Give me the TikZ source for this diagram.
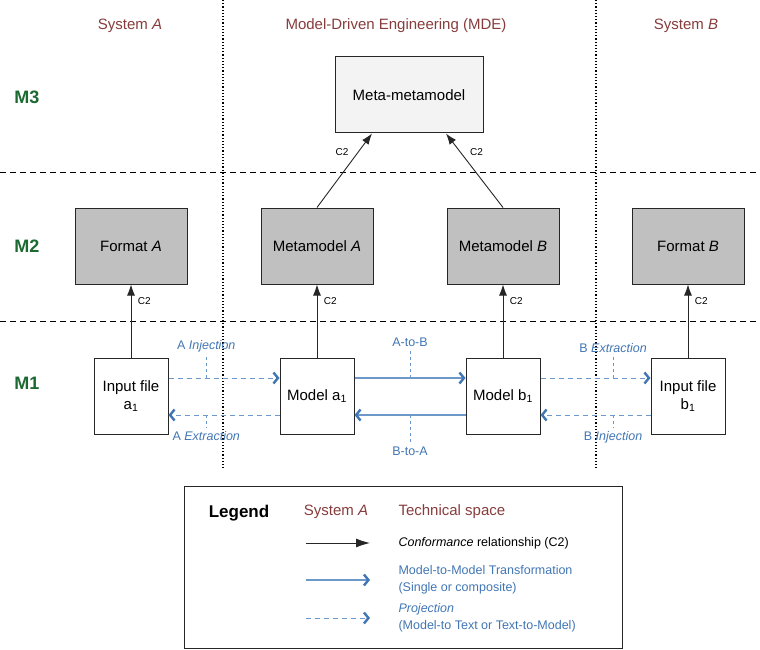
\documentclass[tikz,border=0pt]{standalone}
\usepackage{fontspec}
\setmainfont{Liberation Sans}
\usetikzlibrary{arrows.meta,positioning}
\definecolor{spacered}{RGB}{135,60,60}
\definecolor{levelgreen}{RGB}{28,105,50}
\definecolor{trafoblue}{RGB}{65,118,180}
\definecolor{lineblue}{RGB}{108,152,202}
\definecolor{mmgray}{RGB}{192,192,192}
\definecolor{mmmgray}{RGB}{243,243,243}
\begin{document}
\begin{tikzpicture}[x=1pt, y=-1pt,
    space/.style={text=spacered, font=\fontsize{15}{18}\selectfont},
    level/.style={text=levelgreen, font=\bfseries\fontsize{18}{20}\selectfont},
    box/.style={draw=black!85, line width=1pt, align=center, minimum height=76pt, inner sep=2pt, font=\fontsize{15}{18}\selectfont},
    mmmbox/.style={box, fill=mmmgray, minimum width=148pt},
    mmbox/.style={box, fill=mmgray, minimum width=112pt},
    mbox/.style={box, fill=white, minimum width=74pt},
    conf/.style={draw=black!85, line width=0.9pt, -{Latex[length=11pt,width=8pt]}},
    m2m/.style={draw=lineblue, line width=1.2pt, -{Straight Barb[length=4.5pt,width=11pt,line width=2.4pt,color=trafoblue]}},
    proj/.style={m2m, line width=1pt, dash pattern=on 5pt off 4pt},
    tick/.style={draw=lineblue, line width=0.8pt, dash pattern=on 3pt off 3pt},
    clbl/.style={font=\fontsize{10}{11}\selectfont},
    tlbl/.style={text=trafoblue, font=\fontsize{12.5}{15}\selectfont},
    sep/.style={line width=1pt, dash pattern=on 6pt off 4pt},
    part/.style={line width=1.2pt, dotted}
]
\useasboundingbox (0,0) rectangle (760,650);

% technical spaces and levels
\draw[part] (223,0) -- (223,470);
\draw[part] (596,0) -- (596,470);
\draw[sep] (0,172) -- (760,172);
\draw[sep] (0,321) -- (760,321);

\node[space] (hdrA) at (130,26) {System \textit{A}};
\node[space] (hdrMDE) at (396,26) {Model-Driven Engineering (MDE)};
\node[space] (hdrB) at (686,26) {System \textit{B}};

\node[level] (lvlM3) at (27,97) {M3};
\node[level] (lvlM2) at (27,246) {M2};
\node[level] (lvlM1) at (27,383) {M1};

% M3
\node[mmmbox] (mmm) at (409,95) {Meta-metamodel};

% M2
\node[mmbox] (fmtA) at (131,246) {Format \textit{A}};
\node[mmbox] (mmA) at (317,246) {Metamodel \textit{A}};
\node[mmbox] (mmB) at (503,246) {Metamodel \textit{B}};
\node[mmbox] (fmtB) at (688,246) {Format \textit{B}};

% M1
\node[mbox] (inA) at (131,396) {Input file\\a\textsubscript{1}};
\node[mbox] (modA) at (317,396) {Model a\textsubscript{1}};
\node[mbox] (modB) at (503,396) {Model b\textsubscript{1}};
\node[mbox] (inB) at (688,396) {Input file\\b\textsubscript{1}};

% conformance
\draw[conf] (mmA.north) -- node[clbl, pos=0.75, left=6pt] {C2} ([xshift=-37pt]mmm.south);
\draw[conf] (mmB.north) -- node[clbl, pos=0.75, right=6pt] {C2} ([xshift=37pt]mmm.south);
\draw[conf] (inA) -- node[clbl, pos=0.77, right=3pt] {C2} (fmtA);
\draw[conf] (modA) -- node[clbl, pos=0.77, right=3pt] {C2} (mmA);
\draw[conf] (modB) -- node[clbl, pos=0.77, right=3pt] {C2} (mmB);
\draw[conf] (inB) -- node[clbl, pos=0.77, right=3pt] {C2} (fmtB);

% projections and transformations
\draw[proj] ([yshift=18pt]inA.east) -- coordinate[pos=0.34] (injA) ([yshift=18pt]modA.west);
\draw[proj] ([yshift=-19pt]modA.west) -- coordinate[pos=0.66] (extA) ([yshift=-19pt]inA.east);
\draw[m2m] ([yshift=18pt]modA.east) -- coordinate[pos=0.5] (atob) ([yshift=18pt]modB.west);
\draw[m2m] ([yshift=-19pt]modB.west) -- coordinate[pos=0.5] (btoa) ([yshift=-19pt]modA.east);
\draw[proj] ([yshift=18pt]modB.east) -- coordinate[pos=0.66] (extB) ([yshift=18pt]inB.west);
\draw[proj] ([yshift=-19pt]inB.west) -- coordinate[pos=0.34] (injB) ([yshift=-19pt]modB.east);

\node[tlbl, above=22pt of injA] (tInjA) {A \textit{Injection}};
\node[tlbl, below=13pt of extA] (tExtA) {A \textit{Extraction}};
\node[tlbl, above=28pt of atob] (tAtoB) {A-to-B};
\node[tlbl, below=28pt of btoa] (tBtoA) {B-to-A};
\node[tlbl, above=22pt of extB] (tExtB) {B \textit{Extraction}};
\node[tlbl, below=13pt of injB] (tInjB) {B \textit{Injection}};
\draw[tick] (injA) -- (tInjA.south);
\draw[tick] (extA) -- (tExtA.north);
\draw[tick] (atob) -- (tAtoB.south);
\draw[tick] (btoa) -- (tBtoA.north);
\draw[tick] (extB) -- (tExtB.south);
\draw[tick] (injB) -- (tInjB.north);

% legend
\node[draw=black!85, line width=1pt, minimum width=438pt, minimum height=162pt] (legend) at (403,567) {};
\node[font=\bfseries\fontsize{17}{20}\selectfont] (lgdTitle) at (239,513) {Legend};
\node[space] (lgdSys) at (336,512) {System \textit{A}};
\node[space, anchor=west] (lgdTS) at (395,512) {Technical space};
\coordinate (lgdConfA) at (306,543);
\coordinate (lgdConfB) at (370,543);
\coordinate (lgdTrafoA) at (306,580);
\coordinate (lgdTrafoB) at (370,580);
\coordinate (lgdProjA) at (306,618);
\coordinate (lgdProjB) at (370,618);
\draw[conf, -{Latex[length=14pt,width=9pt]}] (lgdConfA) -- (lgdConfB);
\draw[m2m] (lgdTrafoA) -- (lgdTrafoB);
\draw[proj] (lgdProjA) -- (lgdProjB);
\node[anchor=west, align=left, font=\fontsize{12.5}{15}\selectfont] (lgdConf) at (395,543) {\textit{Conformance} relationship (C2)};
\node[anchor=west, align=left, text=trafoblue, font=\fontsize{12.5}{17}\selectfont] (lgdTrafo) at (395,580) {Model-to-Model Transformation\\(Single or composite)};
\node[anchor=west, align=left, text=trafoblue, font=\fontsize{12.5}{17}\selectfont] (lgdProj) at (395,618) {\textit{Projection}\\(Model-to Text or Text-to-Model)};
\end{tikzpicture}
\end{document}
